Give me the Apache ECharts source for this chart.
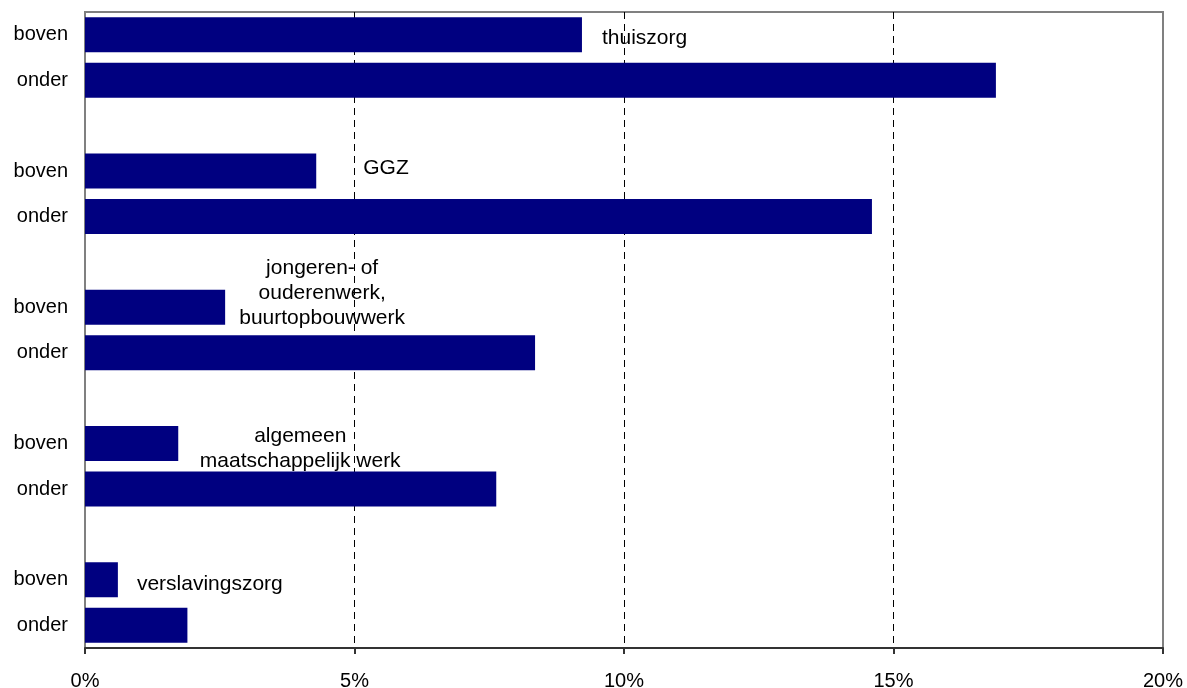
<!DOCTYPE html>
<html>
<head>
<meta charset="utf-8">
<script src="https://cdn.jsdelivr.net/npm/echarts@6/dist/echarts.min.js"></script>
<style>
  html, body { margin: 0; padding: 0; background: #fff; }
  #chart { width: 1187px; height: 688px; }
</style>
</head>
<body>
<div id="chart"></div>
<script>
// rijen van boven naar beneden, lege rij tussen de groepen
const categories = ['boven', 'onder', '', 'boven', 'onder', '', 'boven', 'onder', '', 'boven', 'onder', '', 'boven', 'onder'];
const values = [9.22, 16.9, null, 4.29, 14.6, null, 2.6, 8.35, null, 1.73, 7.63, null, 0.61, 1.9];
const groupNames = ['thuiszorg', 'GGZ', 'jongeren- of\nouderenwerk,\nbuurtopbouwwerk', 'algemeen\nmaatschappelijk werk', 'verslavingszorg'];
const xTicks = [0, 5, 10, 15, 20];

const FONT = 'Liberation Sans, Arial, sans-serif';

// plaatsing van de tekstvakjes naast de 'boven' balken
const labelStyles = [
  { position: 'right', distance: 20, offset: [0, 3] },
  { position: 'right', distance: 47, offset: [0, -3] },
  { position: 'right', distance: 0, align: 'center', offset: [97, -14], lineHeight: 25 },
  { position: 'right', distance: 0, align: 'center', offset: [122, 5], lineHeight: 25 },
  { position: 'right', distance: 19, offset: [0, 4] }
];

const barData = values.map((v, i) => {
  if (i % 3 !== 0) return v;
  const g = i / 3;
  return {
    value: v,
    label: Object.assign({
      show: true,
      formatter: groupNames[g],
      color: '#000',
      fontSize: 21,
      fontFamily: FONT
    }, labelStyles[g])
  };
});

const chart = echarts.init(document.getElementById('chart'));
chart.setOption({
  animation: false,
  backgroundColor: '#fff',
  grid: {
    left: 85, right: 24, top: 12, bottom: 40,
    outerBoundsMode: 'none',
    show: true, borderColor: '#808080', borderWidth: 2
  },
  xAxis: {
    type: 'value',
    min: xTicks[0],
    max: xTicks[xTicks.length - 1],
    interval: 5,
    axisLine: { show: true, lineStyle: { color: '#333', width: 2 } },
    axisTick: { show: true, length: 6, lineStyle: { color: '#333', width: 2 } },
    axisLabel: {
      formatter: '{value}%', color: '#000', fontSize: 20, fontFamily: FONT, margin: 23
    },
    splitLine: {
      show: true,
      lineStyle: { color: ['transparent', '#000', '#000', '#000', 'transparent'], type: [7, 5], width: 1 }
    }
  },
  yAxis: {
    type: 'category',
    data: categories,
    inverse: true,
    axisLine: { show: true, lineStyle: { color: '#808080', width: 2 } },
    axisTick: { show: false },
    axisLabel: { color: '#000', fontSize: 20, fontFamily: FONT, margin: 17 },
    splitLine: { show: false }
  },
  series: [{
    type: 'bar',
    data: barData,
    barWidth: '77%',
    itemStyle: { color: '#000080' }
  }]
});
</script>
</body>
</html>
